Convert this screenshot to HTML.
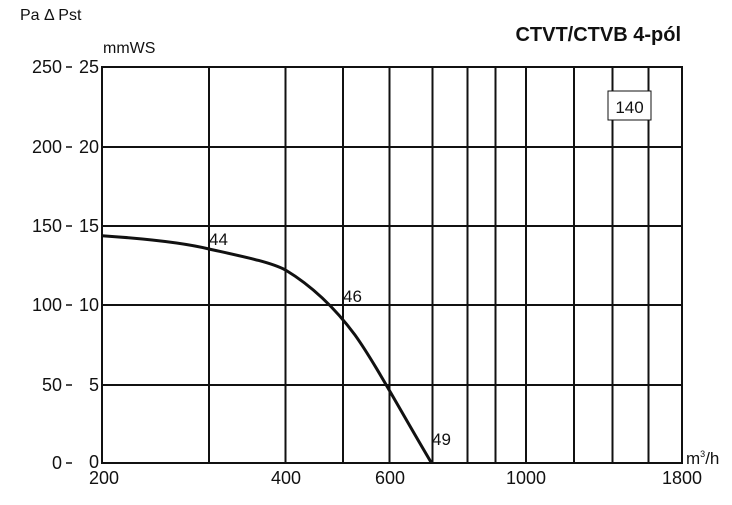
<!DOCTYPE html>
<html><head><style>
body{margin:0;background:#fff;}
svg text{font-family:"Liberation Sans",sans-serif;fill:#111;}
</style></head><body>
<svg width="732" height="500" viewBox="0 0 732 500" xmlns="http://www.w3.org/2000/svg">
<g stroke="#111" stroke-width="2" fill="none">
<rect x="102" y="67" width="580" height="396"/>
<line x1="102" y1="147" x2="682" y2="147"/>
<line x1="102" y1="226" x2="682" y2="226"/>
<line x1="102" y1="305" x2="682" y2="305"/>
<line x1="102" y1="385" x2="682" y2="385"/>
<line x1="209" y1="67" x2="209" y2="463"/>
<line x1="285.5" y1="67" x2="285.5" y2="463"/>
<line x1="343" y1="67" x2="343" y2="463"/>
<line x1="389.5" y1="67" x2="389.5" y2="463"/>
<line x1="432.5" y1="67" x2="432.5" y2="463"/>
<line x1="467.5" y1="67" x2="467.5" y2="463"/>
<line x1="495.5" y1="67" x2="495.5" y2="463"/>
<line x1="526" y1="67" x2="526" y2="463"/>
<line x1="574" y1="67" x2="574" y2="463"/>
<line x1="612.5" y1="67" x2="612.5" y2="463"/>
<line x1="648.5" y1="67" x2="648.5" y2="463"/>
<line x1="66" y1="67" x2="72" y2="67" stroke-width="1.5"/>
<line x1="66" y1="147" x2="72" y2="147" stroke-width="1.5"/>
<line x1="66" y1="226" x2="72" y2="226" stroke-width="1.5"/>
<line x1="66" y1="305" x2="72" y2="305" stroke-width="1.5"/>
<line x1="66" y1="385" x2="72" y2="385" stroke-width="1.5"/>
<line x1="66" y1="463" x2="72" y2="463" stroke-width="1.5"/>
<path d="M102,235.7 C150,239 185,243 209,249 C245,257 270,262 285.5,270 C312,286 335,308 355,335 C375,363 400,410 431.5,463" stroke-width="3"/>
<rect x="608" y="91" width="43" height="29" stroke-width="1" fill="#fff"/>
</g>
<text x="629.5" y="113" font-size="17" text-anchor="middle">140</text>
<text x="209" y="245" font-size="17">44</text>
<text x="343" y="302" font-size="17">46</text>
<text x="432" y="445" font-size="17">49</text>
<text x="20" y="20" font-size="16">Pa Δ Pst</text>
<text x="103" y="53" font-size="16">mmWS</text>
<text x="681" y="41" font-size="20" font-weight="bold" text-anchor="end">CTVT/CTVB 4-pól</text>
<g font-size="18" text-anchor="end">
<text x="62" y="73">250</text><text x="62" y="153">200</text><text x="62" y="232">150</text>
<text x="62" y="311">100</text><text x="62" y="391">50</text><text x="62" y="469">0</text>
<text x="99" y="73">25</text><text x="99" y="153">20</text><text x="99" y="232">15</text>
<text x="99" y="311">10</text><text x="99" y="391">5</text><text x="99" y="468">0</text>
</g>
<g font-size="18" text-anchor="middle">
<text x="104" y="484">200</text><text x="286" y="484">400</text><text x="390" y="484">600</text>
<text x="526" y="484">1000</text><text x="682" y="484">1800</text>
</g>
<text x="686" y="464" font-size="17">m<tspan font-size="9" dy="-7">3</tspan><tspan dy="7">/h</tspan></text>
</svg>
</body></html>
